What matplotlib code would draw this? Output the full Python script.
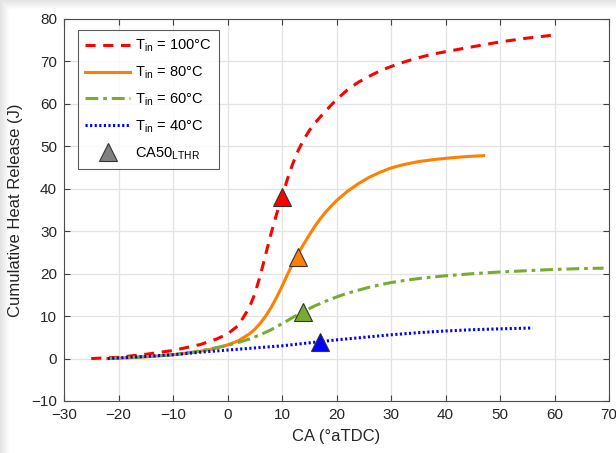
import numpy as np
import matplotlib
matplotlib.use("Agg")
import matplotlib.pyplot as plt
from matplotlib.lines import Line2D

plt.rcParams['font.family'] = ['Liberation Sans', 'DejaVu Sans']

# Cumulative heat release vs crank angle for four intake temperatures
ca_100 = [-25, -20, -15, -10, -5, -2, 0, 2, 4, 5, 6, 7, 8, 9, 10, 11, 12, 13, 14, 15, 16, 17, 18, 19, 20,
          22, 24, 26, 28, 30, 32, 34, 36, 38, 40, 43, 46, 50, 55, 60.5]
hr_100 = [0, 0.3, 1.0, 1.9, 3.3, 4.6, 5.8, 7.8, 12.0, 15.2, 19.5, 24.5, 29.5, 34.0, 38.0, 42.3, 46.0, 49.1, 51.6, 53.7,
          55.4, 56.9, 58.3, 59.7, 61.0, 63.3, 65.1, 66.5, 67.8, 68.8, 69.7, 70.5, 71.2, 71.8, 72.3, 73.0, 73.7, 74.6, 75.5, 76.3]

ca_80 = [-22, -18, -14, -10, -6, -3, 0, 2, 4, 5, 6, 7, 8, 9, 10, 11, 12, 13, 14, 15, 16, 17, 18, 19, 20,
         22, 24, 26, 28, 30, 32, 35, 38, 41, 44, 47]
hr_80 = [0, 0.2, 0.5, 0.9, 1.5, 2.2, 3.2, 4.2, 5.8, 6.9, 8.3, 10.0, 12.0, 14.4, 17.0, 19.8, 22.5, 24.8, 27.0, 29.1,
         31.1, 32.9, 34.5, 35.9, 37.2, 39.4, 41.2, 42.7, 43.9, 44.9, 45.6, 46.4, 46.9, 47.3, 47.6, 47.8]

ca_60 = [-22, -18, -14, -10, -6, -3, 0, 2, 4, 6, 8, 10, 12, 14, 16, 18, 20, 22, 24, 26, 28, 30, 33, 36, 40,
         45, 50, 55, 60, 65, 69]
hr_60 = [0, 0.2, 0.5, 0.9, 1.6, 2.3, 3.1, 3.8, 4.6, 5.6, 6.8, 8.2, 9.7, 11.1, 12.4, 13.5, 14.5, 15.4, 16.1, 16.8,
         17.4, 17.9, 18.5, 19.0, 19.5, 20.0, 20.4, 20.7, 21.0, 21.2, 21.3]

ca_40 = [-22, -18, -15, -10, -5, 0, 5, 10, 15, 20, 25, 30, 35, 40, 45, 50, 56]
hr_40 = [0, 0.3, 0.5, 0.9, 1.5, 2.0, 2.5, 3.0, 3.7, 4.4, 5.0, 5.6, 6.1, 6.5, 6.8, 7.0, 7.2]

# CA50 of the low-temperature heat release for each case
ca50_x = [10.0, 12.9, 13.8, 17.0]
ca50_y = [38.0, 24.0, 11.0, 3.8]

labels = ["T$_{\\mathregular{in}}$ = 100\u00b0C", "T$_{\\mathregular{in}}$ = 80\u00b0C",
          "T$_{\\mathregular{in}}$ = 60\u00b0C", "T$_{\\mathregular{in}}$ = 40\u00b0C"]
colors = ["#ff0000", "#ff8000", "#77ac30", "#0000ff"]

fig = plt.figure(figsize=(6.16, 4.53), dpi=100)

# soft window shadow along the left and top edges
H, W = 453, 616
yy, xx = np.mgrid[0:H, 0:W]
shade = np.maximum(np.clip((9 - xx) / 9.0, 0, 1), np.clip((9 - yy) / 9.0, 0, 1))
img = np.ones((H, W, 4))
img[..., :3] = 0.80
img[..., 3] = shade * 0.55
fig.figimage(img, 0, 0, zorder=0, origin='upper')

ax = fig.add_axes([64 / 616, 1 - 401 / 453, (609 - 64) / 616, (401 - 19) / 453])
ax.set_zorder(1)

lw = 2.2
ax.plot(ca_100, hr_100, color=colors[0], lw=lw, dashes=(3.3, 2.5), label=labels[0])
ax.plot(ca_80, hr_80, color=colors[1], lw=lw, ls='-', label=labels[1])
ax.plot(ca_60, hr_60, color=colors[2], lw=lw, dashes=(4.2, 1.6, 1.2, 1.6), label=labels[2])
ax.plot(ca_40, hr_40, color=colors[3], lw=lw, dashes=(0.7, 0.8), label=labels[3])

for x, y, c in zip(ca50_x, ca50_y, colors):
    ax.plot(x, y, marker='^', ms=13, mfc=c, mec='#333333', mew=0.8, ls='none', zorder=5)

ax.set_xlim(-30, 70)
ax.set_ylim(-10, 80)
ax.set_xticks(np.arange(-30, 71, 10))
ax.set_yticks(np.arange(-10, 81, 10))
ax.grid(True, color='#e3e3e3', lw=0.9)
ax.set_axisbelow(True)
ax.tick_params(direction='in', top=True, right=True, length=4, width=0.8,
               colors='#404040', labelsize=11, labelcolor='#262626', pad=5)
for s in ax.spines.values():
    s.set_color('#4d4d4d')
    s.set_linewidth(0.8)

ax.set_xlabel("CA (\u00b0aTDC)", fontsize=12, color='#262626', labelpad=5)
ax.set_ylabel("Cumulative Heat Release (J)", fontsize=12, color='#262626', labelpad=6)

handles, labs = ax.get_legend_handles_labels()
tri = Line2D([], [], marker='^', ms=13, mfc='#808080', mec='#333333', mew=0.8, ls='none')
handles.append(tri)
labs.append("CA50$_{\\mathregular{LTHR}}$")
leg = ax.legend(handles, labs, loc='upper left', bbox_to_anchor=(0.025, 0.97),
                fontsize=10.5, frameon=True, fancybox=False, edgecolor='#333333',
                handlelength=3.1, handletextpad=0.35, labelspacing=0.7,
                borderpad=0.5, borderaxespad=0.0)
leg.get_frame().set_linewidth(0.8)

fig.savefig("out.png", dpi=100)
